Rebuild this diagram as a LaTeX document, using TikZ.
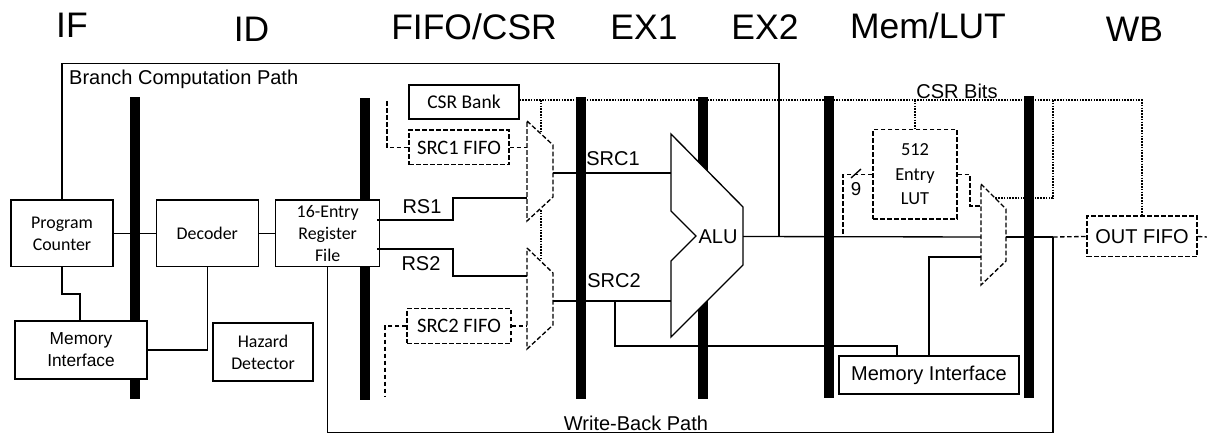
\documentclass[tikz,border=0pt]{standalone}
\usepackage{fontspec}
\setmainfont{Liberation Sans}
\newfontfamily\calfont{Carlito}
\usepackage{tikz}
\usetikzlibrary{positioning}

\begin{document}
\begin{tikzpicture}[
  x=0.75pt, y=-0.75pt,
  line width=1pt,
  bar/.style={fill=black, minimum width=7.5pt, minimum height=226pt, inner sep=0pt},
  box/.style={draw, fill=white, align=center, inner sep=0pt, font=\calfont\fontsize{13.4}{16.3}\selectfont},
  sbox/.style={box, font=\fontsize{13}{16.5}\selectfont},
  fifo/.style={box, dash pattern=on 3.5pt off 1.75pt, font=\calfont\fontsize{15.4}{17}\selectfont},
  stage/.style={anchor=base, inner sep=0pt, font=\fontsize{26.6}{30}\selectfont},
  lab/.style={inner sep=0pt, font=\fontsize{15}{18}\selectfont},
  dline/.style={dash pattern=on 3.5pt off 1.75pt},
  csr/.style={line width=1.2pt, dash pattern=on 1.2pt off 0.9pt}
]
\useasboundingbox (0,0) rectangle (1207,434);

% Stages
\node[stage] (tif) at (72,37.5) {IF};
\node[stage] (tid) at (251.5,42) {ID};
\node[stage] (tfifo) at (474,40) {FIFO/CSR};
\node[stage] (tex1) at (644,40) {EX1};
\node[stage] (tex2) at (765,40) {EX2};
\node[stage] (tmem) at (928,38.5) {Mem/LUT};
\node[stage] (twb) at (1134.5,42) {WB};

% Pipeline bars
\node[bar] (b1) at (135,248) {};
\node[bar] (b2) at (365,249) {};
\node[bar] (b3) at (581,248) {};
\node[bar] (b4) at (703,248) {};
\node[bar] (b5) at (829,247) {};
\node[bar] (b6) at (1029,247) {};

% Coordinates
\coordinate (branchtop) at (779,63.5);
\coordinate (aluout) at (743,236.5);
\coordinate (branchjoin) at (779,236.5);
\coordinate (muxain) at (527,147.5);
\coordinate (rsa) at (377,220);
\coordinate (rsb) at (377,249);
\coordinate (muxa) at (527,198);
\coordinate (muxb) at (527,276);
\coordinate (muxaout) at (553,173);
\coordinate (muxbout) at (553,301);
\coordinate (alua) at (671,173);
\coordinate (alub) at (671,301);
\coordinate (muxbin) at (527,326);
\coordinate (srcatop) at (387,101);
\coordinate (srcbend) at (385,397);
\coordinate (srcbtap) at (615,301);
\coordinate (wbbot) at (1053,432.5);
\coordinate (wbjoin) at (1053,237);
\coordinate (muxcin) at (981,237);
\coordinate (muxcmem) at (981,257);
\coordinate (muxclut) at (981,206);
\coordinate (muxcout) at (1006,237);
\coordinate (lutjoin) at (843,237);
\coordinate (csrend) at (1142,100);
\coordinate (csrtap) at (1053,100);
\coordinate (csrmuxc) at (995,198);
\coordinate (csrmuxa) at (541,132);
\coordinate (csrmidt) at (541,210);
\coordinate (csrmidb) at (541,260);
\coordinate (csrorg) at (541,100);
\coordinate (csrlut) at (915,100);
\coordinate (fifoout) at (1207,237);

% Nodes
\node[box, minimum width=76.5pt, minimum height=50pt] (pc) at (62,233.5) {Program\\Counter};
\node[box, minimum width=76.5pt, minimum height=50pt, right=31.5pt of pc] (dec) {Decoder};
\node[box, minimum width=78pt, minimum height=50pt, right=12pt of dec] (reg) {16-Entry\\Register\\File};
\node[sbox, minimum width=99pt, minimum height=43.5pt] (memif) at (81,350) {Memory\\Interface};
\node[box, minimum width=75pt, minimum height=43.5pt] (haz) at (263,352) {Hazard\\Detector};
\node[box, minimum width=82.5pt, minimum height=25.5pt, font=\calfont\fontsize{14.6}{17}\selectfont] (csrb) at (464,102) {CSR Bank};
\node[fifo, minimum width=75pt, minimum height=26pt] (fa) at (459,147.5) {SRC1 FIFO};
\node[fifo, minimum width=78pt, minimum height=26pt] (fb) at (459,326) {SRC2 FIFO};
\node[fifo, minimum width=63pt, minimum height=67pt, font=\calfont\fontsize{13.8}{18.3}\selectfont] (lut) at (915,174.5) {512\\Entry\\LUT};
\node[box, minimum width=135pt, minimum height=28.5pt, font=\fontsize{15}{18}\selectfont] (memb) at (929,375) {Memory Interface};
\node[fifo, minimum width=82.5pt, minimum height=30.5pt, font=\fontsize{15}{18}\selectfont] (out) at (1142,236.5) {OUT FIFO};

% Muxes
\draw[dline] (527,121) -- (553,145) -- (553,197) -- (527,221) -- cycle;
\draw[dline] (527,248) -- (553,273) -- (553,325) -- (527,349) -- cycle;
\draw[dline] (981,184) -- (1006,209) -- (1006,261) -- (981,285) -- cycle;
% ALU
\draw[fill=white] (671,134) -- (743,207) -- (743,265) -- (671,337) -- (671,261) -- (696,236) -- (671,211) -- cycle;

% Pointers
\draw (pc) -- (dec);
\draw (dec) -- (reg);
\draw (pc.south) |- (80,294) -- (80,321);
\draw (dec.south) |- (memif.east);
\draw (pc.north) |- (branchtop) -- (branchjoin);
\draw (aluout) -- (muxcin);
\draw (reg.south) |- (wbbot) -- (wbjoin);
\draw (rsa) -- (453,220) |- (muxa);
\draw (rsb) -- (453,249) |- (muxb);
\draw (muxaout) -- (alua);
\draw (muxbout) -- (alub);
\draw (srcbtap) |- (897,346) -- (897,356);
\draw (memb.north) |- (muxcmem);
\draw (muxcout) -- (wbjoin);
\draw[dline] (srcatop) |- (fa.west);
\draw[dline] (fa.east) -- (muxain);
\draw[dline] (fb.west) -| (srcbend);
\draw[dline] (fb.east) -- (muxbin);
\draw[dline] (lut.west) -| (lutjoin);
\draw[dline] (lut.east) -- (970,174.5) |- (muxclut);
\draw[dline] (wbjoin) -- (out.west);
\draw[dline] (out.east) -- (fifoout);
\draw (851,178) -- (861,169);
\draw[csr] (csrb.east |- csrorg) -- (csrend) -- (out.north -| csrend);
\draw[csr] (csrorg) -- (csrmuxa);
\draw[csr] (csrmidt) -- (csrmidb);
\draw[csr] (csrlut) -- (lut.north);
\draw[csr] (csrtap) |- (csrmuxc);

% Labels
\node[lab, anchor=west] (lbranch) at (68.5,79) {Branch Computation Path};
\node[lab] (lrsa) at (422,207) {RS1};
\node[lab] (lrsb) at (421,264) {RS2};
\node[lab] (lsrca) at (613,159) {SRC1};
\node[lab] (lsrcb) at (614,281) {SRC2};
\node[lab] (lalu) at (718,237) {ALU};
\node[lab] (lwb) at (636,423) {Write-Back Path};
\node[lab] (lcsr) at (957,91) {CSR Bits};
\node[lab, font=\fontsize{14}{16}\selectfont] (lnine) at (856,189) {9};
\end{tikzpicture}
\end{document}
